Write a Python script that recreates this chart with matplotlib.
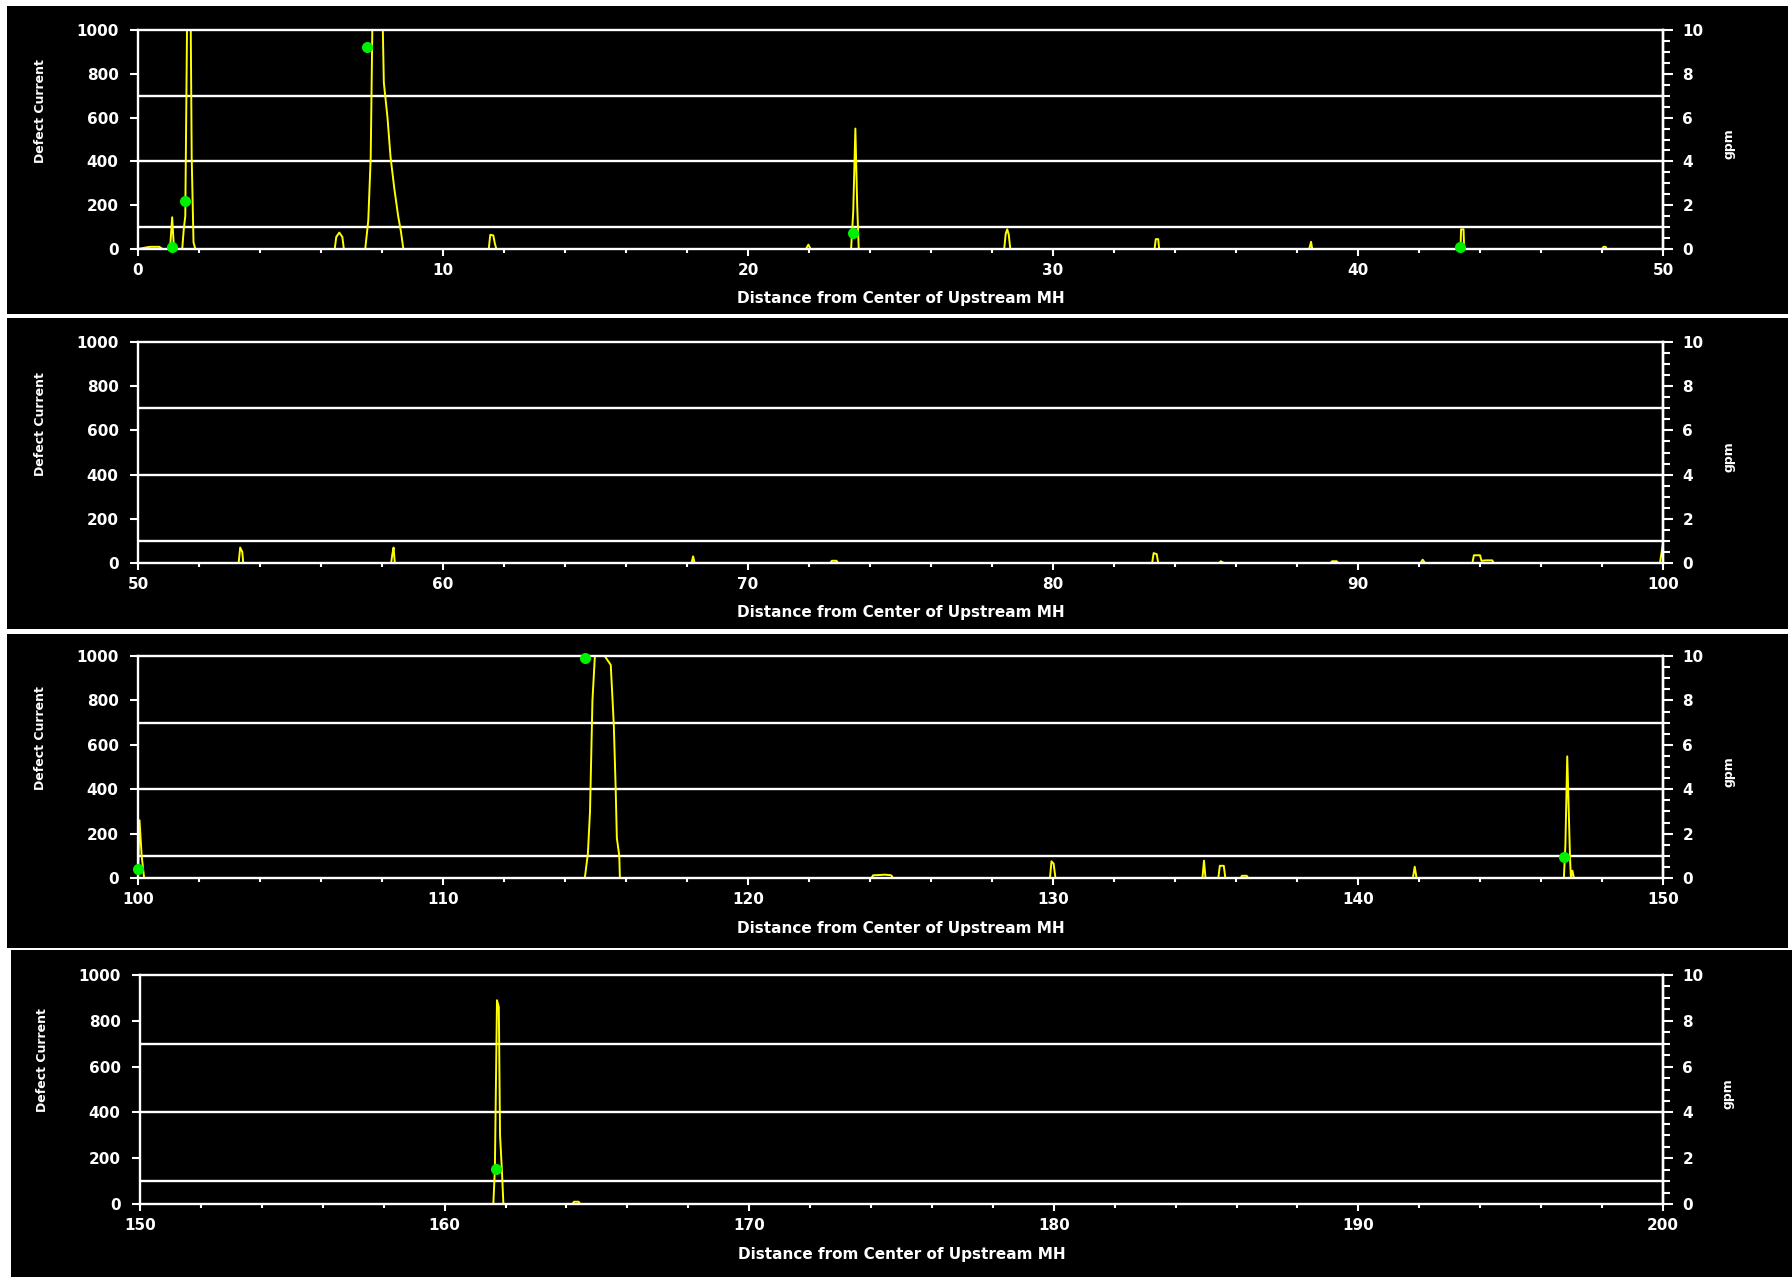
import matplotlib
matplotlib.use("Agg")
import matplotlib.pyplot as plt
from matplotlib.ticker import MultipleLocator
from matplotlib.patches import Rectangle

plt.rcParams['font.family'] = ['DejaVu Sans']
plt.rcParams['font.weight'] = 'bold'
plt.rcParams['axes.labelweight'] = 'bold'

# defect current trace, one piece per panel (distance in ft)
x1 = [0.0, 0.3, 0.4, 0.7, 0.8, 1.05, 1.12, 1.18, 1.45, 1.5, 1.55, 1.62, 1.72, 1.76, 1.82, 1.88,
      6.45, 6.5, 6.6, 6.7, 6.75, 7.45, 7.55, 7.63, 7.7, 8.0, 8.06, 8.18, 8.28, 8.4, 8.53, 8.62, 8.7,
      11.5, 11.55, 11.65, 11.7, 11.75, 21.9, 21.98, 22.05, 23.38, 23.45, 23.52, 23.58, 23.63,
      28.4, 28.45, 28.5, 28.55, 28.6, 33.33, 33.37, 33.45, 33.48, 38.4, 38.46, 38.5,
      43.36, 43.38, 43.46, 43.48, 48.0, 48.05, 48.12, 48.15, 50.0]
y1 = [0, 8, 10, 10, 0, 0, 145, 0, 0, 90, 150, 1200, 1200, 420, 30, 0,
      0, 55, 75, 55, 0, 0, 130, 420, 1200, 1200, 760, 600, 420, 280, 150, 80, 0,
      0, 65, 62, 25, 0, 0, 20, 0, 0, 170, 550, 200, 0,
      0, 70, 90, 65, 0, 0, 45, 45, 0, 0, 33, 0,
      0, 90, 90, 0, 0, 10, 10, 0, 0]

x2 = [50.0, 53.3, 53.35, 53.42, 53.45, 58.3, 58.34, 58.38, 58.42, 68.15, 68.2, 68.25,
      72.7, 72.75, 72.9, 72.95, 83.25, 83.3, 83.4, 83.45, 85.45, 85.5, 85.6,
      89.1, 89.15, 89.3, 89.35, 92.05, 92.12, 92.2, 93.75, 93.8, 94.0, 94.05, 94.2, 94.4, 94.45,
      99.9, 100.0]
y2 = [0, 0, 70, 50, 0, 0, 40, 70, 0, 0, 30, 0,
      0, 10, 10, 0, 0, 45, 40, 0, 0, 8, 0,
      0, 8, 8, 0, 0, 15, 0, 0, 35, 35, 10, 12, 12, 0,
      0, 90]

x3 = [100.0, 100.05, 100.12, 100.2, 114.65, 114.75, 114.82, 114.9, 114.98, 115.3, 115.5, 115.6,
      115.66, 115.7, 115.78, 115.8, 124.05, 124.1, 124.5, 124.7, 124.75,
      129.9, 129.95, 130.02, 130.08, 134.9, 134.95, 135.0, 135.42, 135.47, 135.6, 135.65,
      136.15, 136.2, 136.35, 136.4, 141.8, 141.86, 141.92,
      146.75, 146.8, 146.86, 146.9, 146.95, 146.98, 147.03, 147.08, 150.0]
y3 = [0, 260, 100, 0, 0, 110, 300, 800, 1000, 1000, 960, 690,
      410, 180, 100, 0, 0, 12, 15, 12, 0,
      0, 75, 65, 0, 0, 78, 0, 0, 55, 55, 0,
      0, 10, 10, 0, 0, 51, 0,
      0, 150, 548, 350, 100, 0, 33, 0, 0]

x4 = [150.0, 161.6, 161.65, 161.72, 161.78, 161.82, 161.88, 161.93, 164.2, 164.25, 164.4, 164.45, 200.0]
y4 = [0, 0, 150, 890, 860, 300, 150, 0, 0, 10, 10, 0, 0]

# green markers
gx1 = [1.1, 1.55, 7.5, 23.45, 43.33]
gy1 = [8, 218, 923, 75, 8]
gx2 = []
gy2 = []
gx3 = [100.0, 114.66, 146.74]
gy3 = [40, 990, 93]
gx4 = [161.7]
gy4 = [152]

ranges = [(0, 50), (50, 100), (100, 150), (150, 200)]
traces = [(x1, y1), (x2, y2), (x3, y3), (x4, y4)]
markers = [(gx1, gy1), (gx2, gy2), (gx3, gy3), (gx4, gy4)]
limit_lines = [100, 400, 700]

W, H = 1792, 1277
fig = plt.figure(figsize=(W / 100, H / 100), dpi=100, facecolor='white')

# pixel boxes (left, top, right, bottom)
backs = [(7, 6, 1788, 314), (7, 318, 1788, 629), (7, 634, 1788, 948), (11, 950, 1792, 1277)]
boxes = [(138, 30, 1663, 249), (138, 342, 1663, 563), (138, 656, 1663, 878), (140, 975, 1663, 1204)]


def frac(b):
    l, t, r, bt = b
    return [l / W, 1 - bt / H, (r - l) / W, (bt - t) / H]


for i in range(4):
    fig.add_artist(Rectangle(frac(backs[i])[:2], *frac(backs[i])[2:], transform=fig.transFigure,
                             facecolor='black', edgecolor='none', zorder=0))
    ax = fig.add_axes(frac(boxes[i]))
    ax.set_facecolor('black')
    hpx = boxes[i][3] - boxes[i][1]

    for g in limit_lines:
        ax.axhline(g, color='white', lw=1.7, zorder=1)
    ax.plot(traces[i][0], traces[i][1], color='#ffff00', lw=1.4, zorder=2)
    ax.plot(markers[i][0], markers[i][1], 'o', color='#00ee00', ms=8, mec='none',
            clip_on=False, zorder=5)

    ax.set_xlim(*ranges[i])
    ax.set_ylim(0, 1000)
    ax.xaxis.set_major_locator(MultipleLocator(10))
    ax.xaxis.set_minor_locator(MultipleLocator(2))
    ax.yaxis.set_major_locator(MultipleLocator(200))
    for s in ax.spines.values():
        s.set_color('white')
        s.set_linewidth(1.7)
    ax.tick_params(axis='x', which='major', colors='white', length=5, width=1.5, pad=5, labelsize=11)
    ax.tick_params(axis='x', which='minor', colors='white', length=3, width=1.5)
    ax.tick_params(axis='y', colors='white', length=6, width=1.5, pad=8, labelsize=11)

    ax.set_xlabel('Distance from Center of Upstream MH', color='white', fontsize=11, fontweight='bold')
    ax.xaxis.set_label_coords(0.5, -50 / hpx)
    ax.xaxis.label.set_va('center')
    ax.set_ylabel('Defect Current', color='white', fontsize=9, fontweight='bold')
    ax.yaxis.set_label_coords(-0.064, 0.63)
    ax.yaxis.label.set_va('center')

    tw = ax.twinx()
    tw.set_ylim(0, 10)
    tw.yaxis.set_major_locator(MultipleLocator(2))
    tw.yaxis.set_minor_locator(MultipleLocator(0.5))
    for name, s in tw.spines.items():
        s.set_visible(name == 'right')
        s.set_color('white')
        s.set_linewidth(1.7)
    tw.tick_params(axis='y', which='major', colors='white', length=7, width=1.5, pad=7, labelsize=11)
    tw.tick_params(axis='y', which='minor', colors='white', length=5, width=1.5)
    tw.set_ylabel('gpm', color='white', fontsize=9, fontweight='bold', rotation=90)
    tw.yaxis.set_label_coords(1.043, 0.48)
    tw.yaxis.label.set_va('center')

fig.savefig('out.png', dpi=100, facecolor='white')
